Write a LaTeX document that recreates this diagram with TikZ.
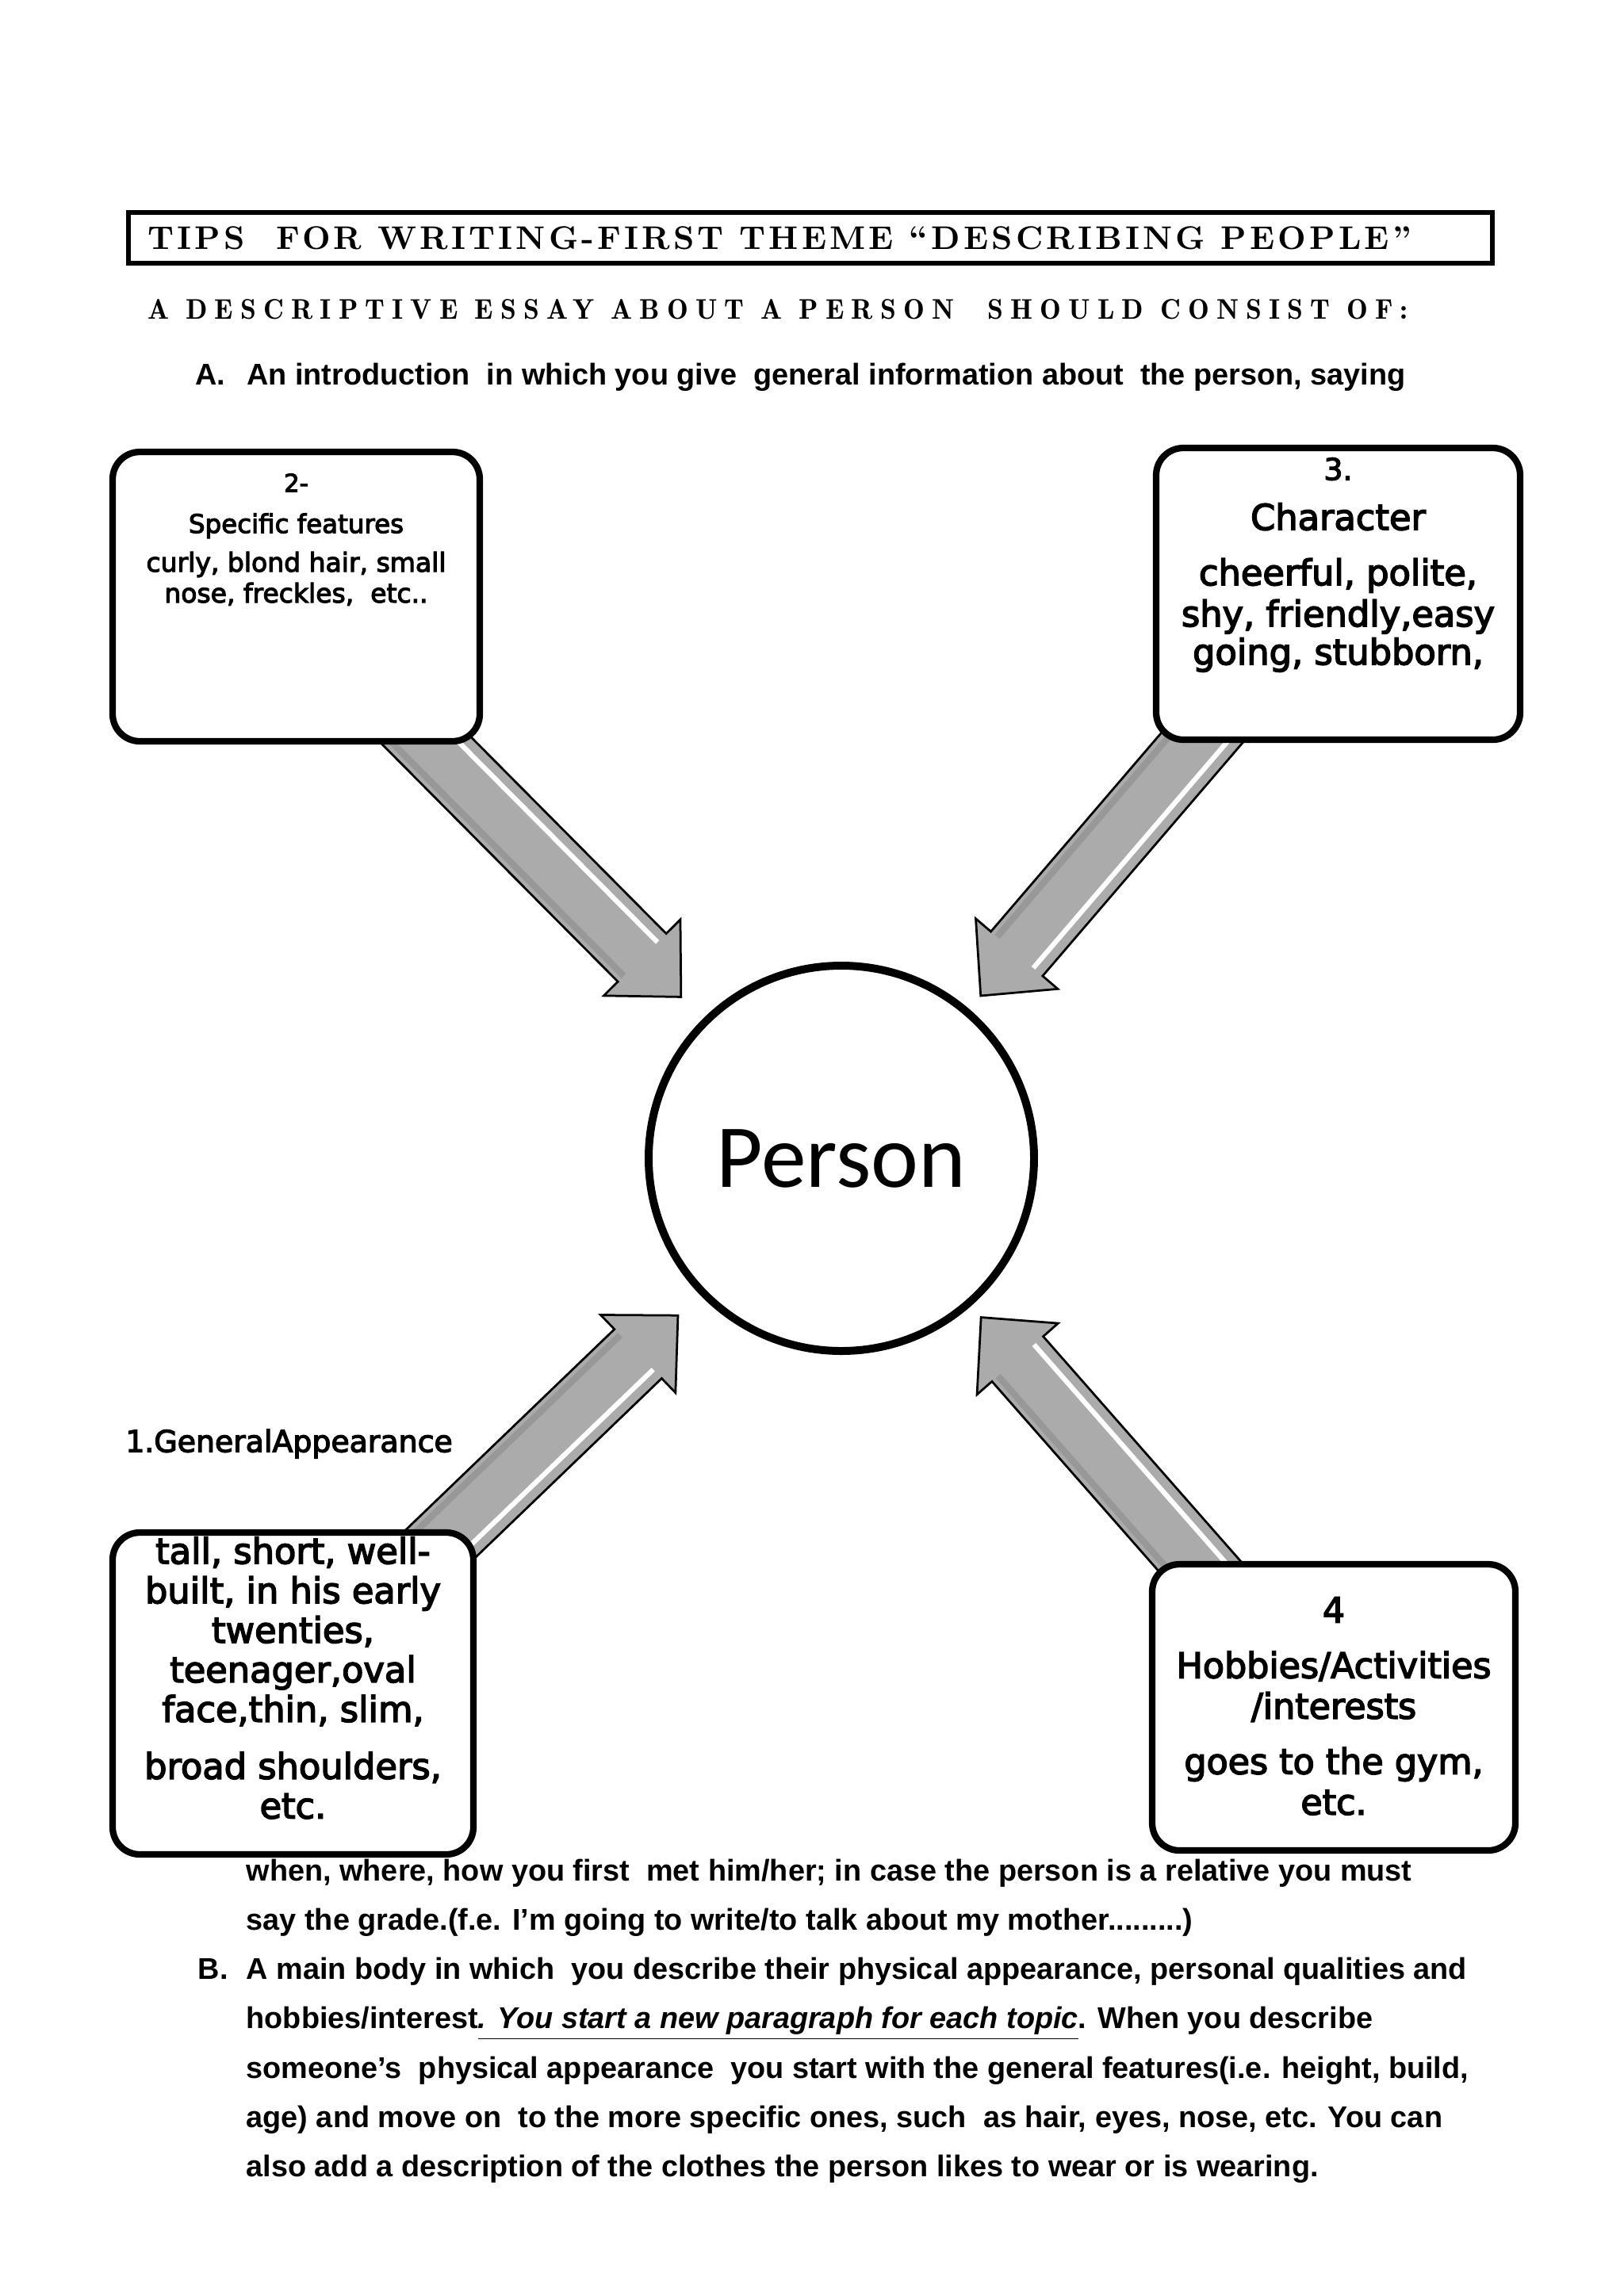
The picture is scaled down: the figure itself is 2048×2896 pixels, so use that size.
\documentclass[tikz,border=0pt]{standalone}
\usepackage{fontspec}
\usetikzlibrary{positioning,calc,backgrounds}

\newfontfamily\headfont{lmromandemi10-regular.otf}
\newfontfamily\headboldfont{lmroman10-bold.otf}
\newfontfamily\boxfont{DejaVu Sans}[FakeBold=3.5]
\newfontfamily\personfont{Carlito}
\newfontfamily\essayfont{Liberation Sans}
\newdimen\px \px=0.2907pt
\definecolor{arrowgray}{RGB}{171,171,171}

\tikzset{every picture/.style={line width=0.75pt}}
\tikzset{
  titlebox/.style={draw, line width=1.8pt, inner sep=0pt, outer sep=0pt},
  tipbox/.style={draw, line width=2.4pt, rounded corners=10pt, fill=white, inner sep=0pt, outer sep=0pt},
  boxtext/.style={font=\boxfont, align=center, inner sep=0pt, anchor=north},
  personcircle/.style={draw, circle, line width=2.9pt, fill=white, inner sep=0pt, minimum size=486\px, font=\personfont\fontsize{33}{40}\selectfont},
  essay/.style={font=\essayfont\bfseries\fontsize{11}{18.1}\selectfont, align=left, inner sep=0pt, anchor=north west},
  arrowbody/.style={fill=arrowgray, draw=black, line width=0.8pt, line join=miter},
  arrowshine/.style={white, line width=1.8pt},
  arrowshade/.style={black!45, line width=2.4pt, opacity=0.6},
}

% fat grey arrow: tail, tip, lit side, dark side
\newcommand{\fatarrow}[4]{%
  \coordinate (fa-base) at ($(#2)!20.3pt!(#1)$);
  \filldraw[arrowbody] ($(#1)!12.5pt!90:(#2)$) -- ($(fa-base)!12.5pt!90:(#2)$) -- ($(fa-base)!19.8pt!90:(#2)$) -- (#2) -- ($(fa-base)!19.8pt!-90:(#2)$) -- ($(fa-base)!12.5pt!-90:(#2)$) -- ($(#1)!12.5pt!-90:(#2)$) -- cycle;
  \draw[arrowshine] ($(#1)!8pt!#3:(#2)$) -- ($(fa-base)!8pt!#3:(#2)$);
  \draw[arrowshade] ($(#1)!9.5pt!#4:(#2)$) -- ($(fa-base)!9.5pt!#4:(#2)$);
}

\begin{document}
\begin{tikzpicture}[x=0.2907pt,y=0.2907pt,yscale=-1,xscale=1]
\useasboundingbox (0,0) rectangle (2048,2896);

%Title Box
\node[titlebox, minimum width=1720\px, minimum height=64\px] (titlebox) at (1022,300) {};
% Text Node
\node[anchor=base west, inner sep=0pt, font=\headboldfont\fontsize{12}{14}\selectfont\addfontfeature{LetterSpace=10}] (title) at (185,314) {TIPS\ \ FOR WRITING-FIRST THEME “DESCRIBING PEOPLE”};
% Text Node
\node[anchor=base west, inner sep=0pt, font=\headfont\fontsize{10.4}{12}\selectfont\addfontfeature{LetterSpace=25.5}] (subtitle) at (185,402) {A DESCRIPTIVE ESSAY ABOUT A PERSON\ \ SHOULD CONSIST OF:};
% Text Node
\node[essay, anchor=base west] (intro) at (310,485) {\llap{A.\hspace{7.9pt}}An introduction\ \ in which you give\ \ general information about\ \ the person, saying};

%Circle
\node[personcircle] (person) at (1061,1461) {Person};

%Rounded Rect
\node[tipbox, minimum width=463\px, minimum height=365\px] (specific) at (373.5,752.5) {};
%Rounded Rect
\node[tipbox, minimum width=459\px, minimum height=368\px] (character) at (1687.5,749) {};
%Rounded Rect
\node[tipbox, minimum width=455\px, minimum height=406\px] (general) at (369.5,2136) {};
%Rounded Rect
\node[tipbox, minimum width=458\px, minimum height=361\px] (hobbies) at (1682,2153.5) {};

% Text Node
\node[boxtext, font=\boxfont\fontsize{9.6}{11.3}\selectfont, below=26\px of specific.north] (specifictext) {{\fontsize{9}{11}\selectfont 2-}\\[3.8pt] {\fontsize{9.45}{11}\selectfont Specific features}\\[2.9pt] curly, blond hair, small\\ nose, freckles,\ \ etc..};
% Text Node
\node[boxtext, font=\boxfont\fontsize{13}{14}\selectfont, below=11\px of character.north] (charactertext) {{\fontsize{11}{13}\selectfont 3.}\\[4.3pt] Character\\[6.3pt] cheerful, polite,\\[1.1pt] shy, friendly,easy\\ going, stubborn,};
% Text Node
\node[boxtext, font=\boxfont\fontsize{13}{14.5}\selectfont, below=4\px of general.north] (generaltext) {tall, short, well-\\ built, in his early\\ twenties,\\ teenager,oval\\ face,thin, slim,\\[6.4pt] broad shoulders,\\ etc.};
% Text Node
\node[boxtext, font=\boxfont\fontsize{12.9}{14.9}\selectfont, below=40\px of hobbies.north] (hobbiestext) {4\\[5.4pt] Hobbies/Activities\\ /interests\\[5.4pt] goes to the gym,\\ etc.};
% Text Node
\node[anchor=west, inner sep=0pt, font=\boxfont\fontsize{11}{13}\selectfont] (generallabel) at (157,1821) {1.GeneralAppearance};

%Arrow ends
\coordinate (t2) at ($(specific.south east)+(-107,-41)$);
\coordinate (t3) at ($(character.south west)+(96,-47)$);
\coordinate (t1) at ($(general.north east)+(-86,57)$);
\coordinate (t4) at ($(hobbies.north west)+(99,47)$);
\coordinate (h2) at ($(person.center)!83.4pt!(t2)$);
\coordinate (h3) at ($(person.center)!78.5pt!(t3)$);
\coordinate (h1) at ($(person.center)!83.1pt!(t1)$);
\coordinate (h4) at ($(person.center)!77.6pt!(t4)$);

\begin{pgfonlayer}{background}
%Right Arrow
\fatarrow{t2}{h2}{-90}{90}
%Right Arrow
\fatarrow{t3}{h3}{-90}{90}
%Right Arrow
\fatarrow{t1}{h1}{90}{-90}
%Right Arrow
\fatarrow{t4}{h4}{90}{-90}
\end{pgfonlayer}

% Text Node
\node[essay] (bodytext) at (310,2344) {when, where, how you first\ \ met him/her; in case the person is a relative you must\\
say the grade.(f.e. I’m going to write/to talk about my mother.........)\\
\llap{B.\hspace{6.7pt}}A main body in which\ \ you describe their physical appearance, personal qualities and\\
hobbies/interest\underline{\textit{. You start a new paragraph for each topic}}. When you describe\\
someone’s\ \ physical appearance\ \ you start with the general features(i.e. height, build,\\
age) and move on\ \ to the more specific ones, such\ \ as hair, eyes, nose, etc. You can\\
also add a description of the clothes the person likes to wear or is wearing.};
\end{tikzpicture}
\end{document}
